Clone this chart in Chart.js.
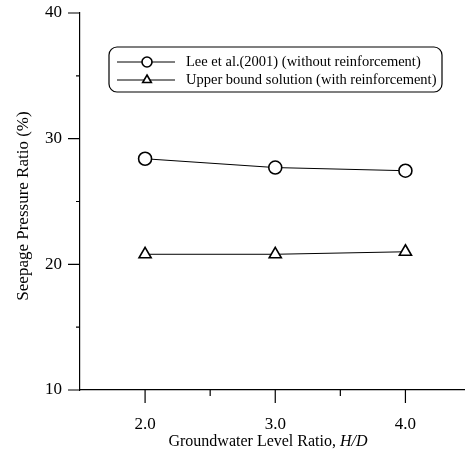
<!DOCTYPE html>
<html>
<head>
<meta charset="utf-8">
<script src="https://cdn.jsdelivr.net/npm/chart.js@4.4.1/dist/chart.umd.min.js"></script>
<style>
  html, body { margin: 0; padding: 0; background: #fff; }
  #wrap { width: 465px; height: 455px; }
</style>
</head>
<body>
<div id="wrap"><canvas id="chart"></canvas></div>
<script>
// values
const groundwaterRatio = [2.0, 3.0, 4.0];
const leeValues = [28.4, 27.7, 27.45];
const upperBoundValues = [20.8, 20.8, 21.0];

const xMajorTicks = [2.0, 3.0, 4.0];
const xMinorTicks = [2.5, 3.5];
const yMajorTicks = [10, 20, 30, 40];
const yMinorTicks = [15, 25, 35];

const seriesNames = ['Lee et al.(2001) (without reinforcement)', 'Upper bound solution (with reinforcement)'];
const xTitleParts = ['Groundwater Level Ratio, ', 'H/D'];
const yTitle = 'Seepage Pressure Ratio (%)';

const SERIF = '"Liberation Serif", "DejaVu Serif", serif';

// tick marks of different lengths (major / minor)
const tickMarks = {
  id: 'tickMarks',
  afterDraw(chart) {
    const ctx = chart.ctx;
    const x = chart.scales.x, y = chart.scales.y;
    const area = chart.chartArea;
    ctx.save();
    ctx.strokeStyle = '#000';
    ctx.lineWidth = 1.2;
    ctx.beginPath();
    xMajorTicks.forEach(v => { const p = x.getPixelForValue(v); ctx.moveTo(p, area.bottom); ctx.lineTo(p, area.bottom + 13); });
    xMinorTicks.forEach(v => { const p = x.getPixelForValue(v); ctx.moveTo(p, area.bottom); ctx.lineTo(p, area.bottom + 6); });
    yMajorTicks.forEach(v => { const p = y.getPixelForValue(v); ctx.moveTo(area.left, p); ctx.lineTo(area.left - 12, p); });
    yMinorTicks.forEach(v => { const p = y.getPixelForValue(v); ctx.moveTo(area.left, p); ctx.lineTo(area.left - 4, p); });
    ctx.stroke();
    ctx.restore();
  }
};

// axis titles (x title has italic H/D)
const axisTitles = {
  id: 'axisTitles',
  afterDraw(chart) {
    const ctx = chart.ctx;
    const area = chart.chartArea;
    ctx.save();
    ctx.fillStyle = '#000';
    ctx.textBaseline = 'middle';

    ctx.font = '16px ' + SERIF;
    const w1 = ctx.measureText(xTitleParts[0]).width;
    ctx.font = 'italic 16px ' + SERIF;
    const w2 = ctx.measureText(xTitleParts[1]).width;
    let sx = (area.left + area.right) / 2 - 4 - (w1 + w2) / 2;
    ctx.textAlign = 'left';
    ctx.font = '16px ' + SERIF;
    ctx.fillText(xTitleParts[0], sx, 442);
    ctx.font = 'italic 16px ' + SERIF;
    ctx.fillText(xTitleParts[1], sx + w1, 442);

    ctx.translate(24, 206);
    ctx.rotate(-Math.PI / 2);
    ctx.textAlign = 'center';
    ctx.font = '17px ' + SERIF;
    ctx.fillText(yTitle, 0, 0);
    ctx.restore();
  }
};

// boxed legend with line + marker samples
const boxLegend = {
  id: 'boxLegend',
  afterDraw(chart) {
    const ctx = chart.ctx;
    const area = chart.chartArea;
    const left = area.left + 29, top = area.top + 34, w = 333, h = 45;
    ctx.save();
    ctx.strokeStyle = '#000';
    ctx.lineWidth = 1.2;
    ctx.beginPath();
    ctx.roundRect(left, top, w, h, 8);
    ctx.stroke();
    chart.data.datasets.forEach((ds, i) => {
      const ry = top + 15 + i * 18;
      ctx.strokeStyle = ds.borderColor;
      ctx.lineWidth = ds.borderWidth;
      ctx.beginPath();
      ctx.moveTo(left + 8, ry);
      ctx.lineTo(left + 66, ry);
      ctx.stroke();
      ctx.fillStyle = ds.pointBackgroundColor;
      ctx.strokeStyle = ds.pointBorderColor;
      ctx.lineWidth = ds.pointBorderWidth;
      Chart.helpers.drawPoint(ctx, { pointStyle: ds.pointStyle, radius: ds.legendRadius, borderWidth: ds.pointBorderWidth, rotation: 0 }, left + 38, ry);
      ctx.fillStyle = '#000';
      ctx.font = '14.5px ' + SERIF;
      ctx.textAlign = 'left';
      ctx.textBaseline = 'middle';
      ctx.fillText(ds.label, left + 77, ry);
    });
    ctx.restore();
  }
};

// drop the label overhang padding so the plot area sits where the figure has it
const noOverhang = s => { s.paddingTop = 0; s.paddingBottom = 0; s.paddingLeft = 0; s.paddingRight = 0; };

new Chart(document.getElementById('chart'), {
  type: 'line',
  data: {
    datasets: [
      {
        label: seriesNames[0],
        data: groundwaterRatio.map((v, i) => ({ x: v, y: leeValues[i] })),
        borderColor: '#000', borderWidth: 1,
        pointStyle: 'circle', pointRadius: 6.5, legendRadius: 5,
        pointBackgroundColor: '#fff', pointBorderColor: '#000', pointBorderWidth: 1.6
      },
      {
        label: seriesNames[1],
        data: groundwaterRatio.map((v, i) => ({ x: v, y: upperBoundValues[i] })),
        borderColor: '#000', borderWidth: 1,
        pointStyle: 'triangle', pointRadius: 7, legendRadius: 5,
        pointBackgroundColor: '#fff', pointBorderColor: '#000', pointBorderWidth: 1.6
      }
    ]
  },
  options: {
    responsive: true,
    maintainAspectRatio: false,
    animation: false,
    layout: { autoPadding: false, padding: { top: 13, right: 1, left: 0, bottom: 0 } },
    plugins: { legend: { display: false }, tooltip: { enabled: false } },
    scales: {
      x: {
        type: 'linear', min: 1.5, max: 4.45,
        afterBuildTicks: s => { s.ticks = xMajorTicks.map(v => ({ value: v })); },
        afterFit: s => { s.height = 65; noOverhang(s); },
        grid: { display: false, drawTicks: false },
        border: { display: true, color: '#000', width: 1.2 },
        ticks: {
          color: '#000', padding: 24, maxRotation: 0,
          font: { family: SERIF, size: 17 },
          callback: v => Number(v).toFixed(1)
        }
      },
      y: {
        type: 'linear', min: 10, max: 40,
        afterBuildTicks: s => { s.ticks = yMajorTicks.map(v => ({ value: v })); },
        afterFit: s => { s.width = 80; noOverhang(s); },
        grid: { display: false, drawTicks: false },
        border: { display: true, color: '#000', width: 1.2 },
        ticks: {
          color: '#000', padding: 18,
          font: { family: SERIF, size: 17 },
          callback: v => String(v)
        }
      }
    }
  },
  plugins: [tickMarks, axisTitles, boxLegend]
});
</script>
</body>
</html>
